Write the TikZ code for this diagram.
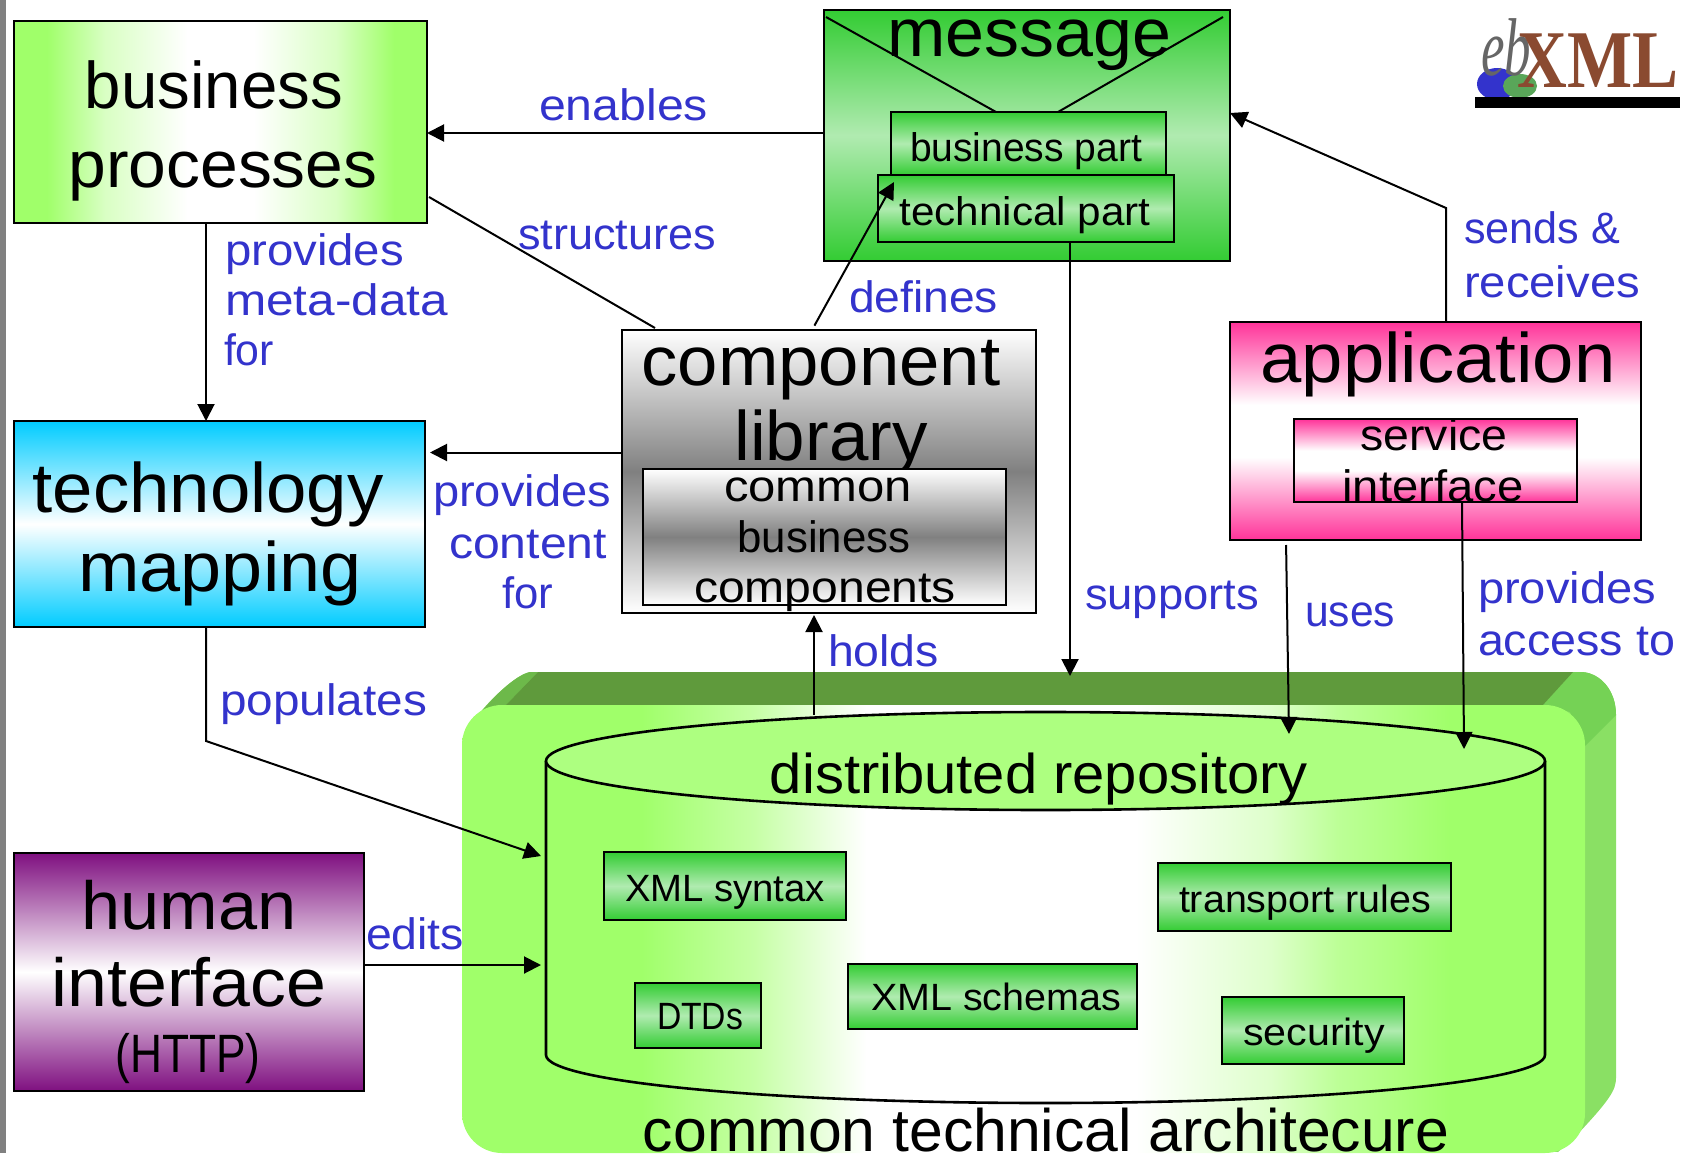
\documentclass[tikz,border=0pt]{standalone}
\usepackage{fontspec}
\setmainfont{Liberation Sans}
\newfontfamily\logofont{Liberation Serif}
\usetikzlibrary{arrows.meta}
\definecolor{limeG}{HTML}{A0FF6A}
\definecolor{limeTop}{HTML}{ADFF80}
\definecolor{sideG}{HTML}{8AE064}
\definecolor{sliverG}{HTML}{6DB94A}
\definecolor{cornerG}{HTML}{75D255}
\definecolor{darkG}{HTML}{5F9A3C}
\definecolor{msgG}{HTML}{33CC33}
\definecolor{msgL}{HTML}{B0EBB0}
\definecolor{pinkC}{HTML}{FF3399}
\definecolor{cyanC}{HTML}{00CCFF}
\definecolor{purpleC}{HTML}{7F1080}
\definecolor{grayC}{HTML}{808080}
\definecolor{labelC}{HTML}{3333CC}
\definecolor{logoBrown}{HTML}{8A4A30}
\pgfdeclarehorizontalshading{bizshade}{100bp}{color(0bp)=(limeG); color(29bp)=(limeG); color(32.5bp)=(limeG!70!white); color(36bp)=(limeG!40!white); color(46bp)=(white); color(54bp)=(white); color(64bp)=(limeG!40!white); color(71bp)=(limeG); color(100bp)=(limeG)}
\pgfdeclarehorizontalshading{plateshade}{100bp}{color(0bp)=(limeG); color(33bp)=(limeG); color(38bp)=(limeG!60!white); color(43bp)=(white); color(55bp)=(white); color(61bp)=(limeG!35!white); color(64bp)=(limeG!70!white); color(69bp)=(limeG); color(100bp)=(limeG)}
\pgfdeclareverticalshading{whiteband}{100bp}{color(0bp)=(pinkC); color(25bp)=(pinkC); color(44bp)=(white); color(56bp)=(white); color(75bp)=(pinkC); color(100bp)=(pinkC)}
\tikzset{
  boxbase/.style={draw=black,line width=2.6pt,inner sep=0pt,outer sep=0pt,rectangle},
  bizbox/.style={boxbase,shading=bizshade},
  msgbox/.style={boxbase,top color=msgG,bottom color=msgG,middle color=msgL},
  graybox/.style={boxbase,top color=white,bottom color=white,middle color=grayC},
  pinkbox/.style={boxbase,shading=whiteband},
  cyanbox/.style={boxbase,top color=cyanC,bottom color=cyanC,middle color=white},
  purplebox/.style={boxbase,top color=purpleC,bottom color=purpleC,middle color=white},
  platebox/.style={inner sep=0pt,outer sep=0pt,rectangle,rounded corners=40pt,shading=plateshade},
  ghostbox/.style={inner sep=0pt,outer sep=0pt,rectangle},
  maintext/.style={inner sep=0pt,outer sep=0pt,anchor=base,text=black},
  labeltext/.style={inner sep=0pt,outer sep=0pt,anchor=base west,text=labelC},
  conn/.style={draw=black,line width=2pt},
  arr/.style={conn,-{Triangle[length=17pt,width=17pt]}},
  cyl/.style={draw=black,line width=2.6pt}
}
\newcommand\mybox[6]{\node[#1,anchor=north west,minimum width=#5-#3,minimum height=#6-#4] (#2) at (#3,#4) {};}
\newcommand\mytext[7]{\node[#1] (#2) at (#3,#4) {\fontsize{#5}{#5}\selectfont\resizebox{#6pt}{\height}{#7}};}
\begin{document}
\begin{tikzpicture}[x=1pt,y=-1pt]
\useasboundingbox (0,0) rectangle (1688,1153);
\fill[grayC] (0,0) rectangle (6,1153);
% plate back
\fill[sideG] (530,672) -- (1582,672) .. controls (1600,673) and (1616,690) .. (1616,715) -- (1616,1078) .. controls (1616,1090) and (1610,1100) .. (1573,1139) -- (1558,1152) -- (520,1100) -- (478,715) .. controls (490,700) and (515,675) .. (530,672) -- cycle;
\fill[sliverG] (530,672) -- (538,672) -- (505,706) -- (478,716) .. controls (490,700) and (515,675) .. (530,672) -- cycle;
\fill[cornerG] (1573,672) -- (1582,672) .. controls (1600,673) and (1616,690) .. (1616,715) -- (1585,746) -- (1570,712) -- (1542,706) -- cycle;
\fill[darkG] (538,672) -- (1573,672) -- (1542,706) -- (505,706) -- cycle;
\mybox{platebox}{plate}{462}{705}{1585}{1153}
% cylinder
\node[ghostbox,anchor=north west,minimum width=999pt,minimum height=391pt] (repo) at (546,712) {};
\draw[cyl] (546,761) -- (546,1055) arc[start angle=180,end angle=360,x radius=499.5pt,y radius=48pt] -- (1545,761);
\draw[cyl,fill=limeTop] (1045.5,761) ellipse [x radius=499.5pt,y radius=49pt];
\mytext{maintext}{repoT}{1039}{793}{56}{538}{distributed repository}
\mytext{maintext}{plateT}{1046}{1151}{60}{806}{common technical architecure}
% boxes inside the repository
\mybox{msgbox}{xmlsyn}{604}{852}{846}{920}
\mytext{maintext}{xmlsynT}{725}{901}{38}{200}{XML syntax}
\mybox{msgbox}{transp}{1158}{863}{1451}{931}
\mytext{maintext}{transpT}{1305}{912}{38}{252}{transport rules}
\mybox{msgbox}{dtds}{635}{983}{761}{1048}
\mytext{maintext}{dtdsT}{700}{1029}{38}{86}{DTDs}
\mybox{msgbox}{schemas}{848}{964}{1137}{1029}
\mytext{maintext}{schemasT}{996}{1010}{38}{250}{XML schemas}
\mybox{msgbox}{secur}{1222}{997}{1404}{1064}
\mytext{maintext}{securT}{1314}{1045}{38}{142}{security}
% business
\mybox{bizbox}{biz}{14}{21}{427}{223}
\mytext{maintext}{bizA}{214}{109}{66}{258}{business}
\mytext{maintext}{bizB}{223}{187}{66}{309}{processes}
% message
\mybox{msgbox}{msg}{824}{10}{1230}{261}
\draw[conn] (826,17) -- (996,112) (1223,17) -- (1058,112);
\mytext{maintext}{msgT}{1029}{57}{68}{284}{message}
\mybox{msgbox}{bpart}{891}{112}{1166}{175}
\mytext{maintext}{bpartT}{1026}{161}{40}{232}{business part}
\mybox{msgbox}{tpart}{878}{175}{1174}{242}
\mytext{maintext}{tpartT}{1025}{225}{40}{251}{technical part}
% component library
\mybox{graybox}{comp}{622}{330}{1036}{613}
\mytext{maintext}{compA}{821}{385}{70}{359}{component}
\mytext{maintext}{compB}{831}{460}{70}{193}{library}
\mybox{graybox}{cbc}{643}{469}{1006}{605}
\mytext{maintext}{cbcA}{818}{501}{44}{188}{common}
\mytext{maintext}{cbcB}{824}{552}{44}{173}{business}
\mytext{maintext}{cbcC}{825}{602}{44}{262}{components}
% application
\mybox{pinkbox}{app}{1230}{322}{1641}{540}
\mytext{maintext}{appT}{1438}{382}{70}{355}{application}
\mybox{pinkbox}{serv}{1294}{419}{1577}{502}
\mytext{maintext}{servA}{1434}{450}{44}{147}{service}
\mytext{maintext}{servB}{1433}{501}{44}{181}{interface}
% technology
\mybox{cyanbox}{tech}{14}{421}{425}{627}
\mytext{maintext}{techA}{208}{512}{70}{351}{technology}
\mytext{maintext}{techB}{220}{591}{70}{283}{mapping}
% human
\mybox{purplebox}{human}{14}{853}{364}{1091}
\mytext{maintext}{humA}{189}{929}{68}{215}{human}
\mytext{maintext}{humB}{189}{1006}{68}{275}{interface}
\mytext{maintext}{humC}{188}{1072}{54}{145}{(HTTP)}
% connectors
\draw[arr] ([yshift=2.5pt]msg.west) -- ([yshift=2.5pt]msg.west -| biz.east);
\draw[conn] ([xshift=33pt,yshift=2pt]comp.north west) -- ([xshift=2pt,yshift=-75pt]biz.east);
\draw[arr] ([xshift=-14.5pt]biz.south) -- ([xshift=-14.5pt]biz.south |- tech.north);
\draw[arr,shorten >=5pt] ([yshift=19pt]comp.west) -- ([yshift=19pt]comp.west -| tech.east);
\draw[arr,shorten <=5pt] ([xshift=-17pt]comp.north) -- ([xshift=16pt,yshift=-7pt]tpart.north west);
\draw[arr] ([xshift=44pt]tpart.south) -- ([xshift=46.5pt,yshift=29pt]plate.north);
\coordinate (sendbend) at (1446,208);
\draw[arr] ([xshift=10.5pt]app.north) -- (sendbend) -- ([yshift=22.5pt]msg.east);
\draw[arr,shorten <=5pt] ([xshift=-149.5pt]app.south) -- ([xshift=243.5pt,yshift=-22pt]repo.north);
\draw[arr] ([xshift=26.5pt]serv.south) -- ([xshift=418.5pt,yshift=-37pt]repo.north);
\draw[arr,shorten >=2pt] ([xshift=-231.5pt,yshift=-3pt]repo.north) -- ([xshift=-15pt]comp.south);
\coordinate (popbend) at (206,741);
\draw[arr] ([xshift=-13.5pt]tech.south) -- (popbend) -- ([xshift=-5pt,yshift=51.5pt]repo.west);
\draw[arr] ([yshift=7pt]human.east) -- ([xshift=-5pt,yshift=-57.5pt]repo.west);
% labels
\mytext{labeltext}{lEnables}{539}{121}{44}{169}{enables}
\mytext{labeltext}{lStruct}{518}{249}{44}{198}{structures}
\mytext{labeltext}{lProvA}{225}{265}{44}{179}{provides}
\mytext{labeltext}{lMeta}{225}{315}{44}{223}{meta-data}
\mytext{labeltext}{lFor}{224}{365}{44}{50}{for}
\mytext{labeltext}{lProvB}{433}{506}{44}{178}{provides}
\mytext{labeltext}{lCont}{449}{558}{44}{158}{content}
\mytext{labeltext}{lForB}{502}{608}{44}{51}{for}
\mytext{labeltext}{lDef}{849}{312}{44}{149}{defines}
\mytext{labeltext}{lSend}{1464}{243}{44}{156}{sends \&}
\mytext{labeltext}{lRecv}{1464}{297}{44}{176}{receives}
\mytext{labeltext}{lSupp}{1085}{609}{44}{174}{supports}
\mytext{labeltext}{lUses}{1305}{626}{44}{90}{uses}
\mytext{labeltext}{lProvC}{1478}{603}{44}{178}{provides}
\mytext{labeltext}{lAcc}{1478}{655}{44}{197}{access to}
\mytext{labeltext}{lHolds}{828}{666}{44}{111}{holds}
\mytext{labeltext}{lPop}{220}{715}{44}{207}{populates}
\mytext{labeltext}{lEdits}{366}{949}{44}{98}{edits}
% logo
\fill[blue!60!gray] (1497,84) ellipse [x radius=20pt,y radius=16pt];
\fill[gray!70!green] (1520,86) ellipse [x radius=17pt,y radius=12pt];
\node[inner sep=0pt,anchor=base,text=gray!80!black] (logoEb) at (1506,76) {\logofont\itshape\fontsize{82}{82}\selectfont\resizebox{50pt}{\height}{eb}};
\node[inner sep=0pt,anchor=base,text=logoBrown] (logoXml) at (1598,88) {\logofont\bfseries\fontsize{82}{82}\selectfont\resizebox{161pt}{\height}{XML}};
\fill[black] (1475,97) rectangle (1680,108);
\end{tikzpicture}
\end{document}
